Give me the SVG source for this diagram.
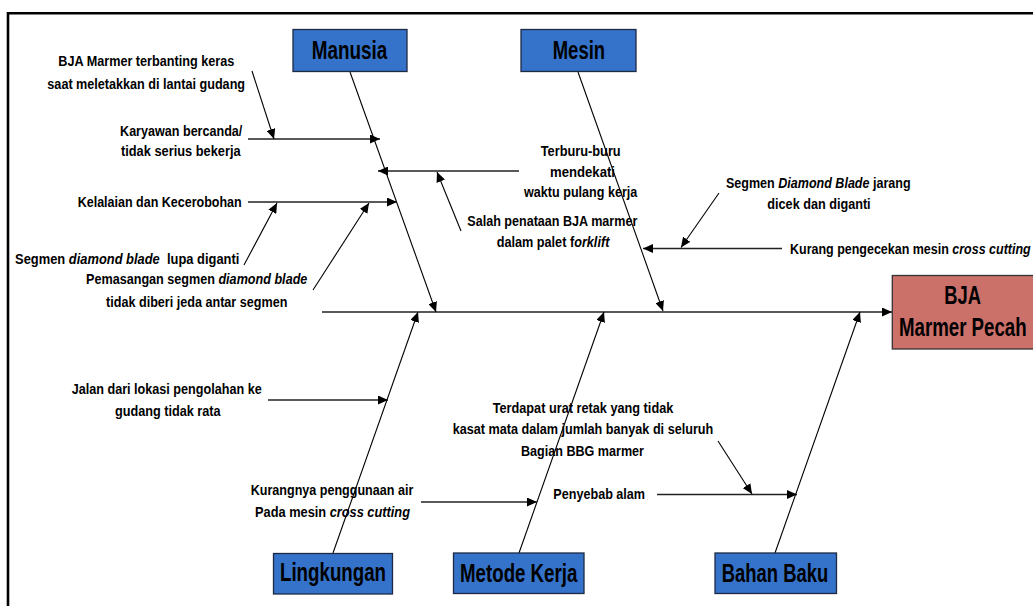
<svg xmlns="http://www.w3.org/2000/svg" width="1033" height="606" viewBox="0 0 1033 606">
<style>
.t{font-family:"Liberation Sans",Arial,sans-serif;font-weight:bold;font-size:14px;fill:#000;text-anchor:middle}
.s{text-anchor:start}
.b{font-family:"Liberation Sans",Arial,sans-serif;font-weight:bold;font-size:26px;fill:#000;text-anchor:middle}
.i{font-style:italic}
.cat{fill:#3473C9;stroke:#1E2A44;stroke-width:1.3}
.eff{fill:#CC706A;stroke:#333;stroke-width:1.3}
.ln{stroke:#000;stroke-width:1.1;fill:none}
.hl{stroke:#222;stroke-width:1.5;fill:none}
</style>
<defs>
<marker id="ah" markerUnits="userSpaceOnUse" markerWidth="11" markerHeight="9" refX="10" refY="4.5" orient="auto">
<path d="M0,0 L10,4.5 L0,9 z" fill="#000"/>
</marker>
</defs>
<rect width="1033" height="606" fill="#fff"/>
<path d="M8,606 V13.3 H1033" fill="none" stroke="#000" stroke-width="2.6"/>

<g id="connectors">
<line class="hl" x1="322" y1="312" x2="892" y2="312" marker-end="url(#ah)"/>
<line class="ln" x1="350" y1="72" x2="436" y2="312" marker-end="url(#ah)"/>
<line class="ln" x1="578" y1="72" x2="663" y2="311" marker-end="url(#ah)"/>
<line class="ln" x1="333" y1="553" x2="418" y2="312" marker-end="url(#ah)"/>
<line class="ln" x1="519" y1="553" x2="604" y2="312" marker-end="url(#ah)"/>
<line class="ln" x1="775" y1="553" x2="860" y2="312" marker-end="url(#ah)"/>
<line class="hl" x1="248" y1="139" x2="380" y2="139" marker-end="url(#ah)"/>
<line class="hl" x1="519" y1="171" x2="378" y2="171" marker-end="url(#ah)"/>
<line class="hl" x1="248" y1="202" x2="397" y2="202" marker-end="url(#ah)"/>
<line class="hl" x1="782" y1="248.5" x2="643" y2="248.5" marker-end="url(#ah)"/>
<line class="hl" x1="268" y1="400" x2="388" y2="400" marker-end="url(#ah)"/>
<line class="hl" x1="421" y1="502" x2="537" y2="502" marker-end="url(#ah)"/>
<line class="hl" x1="657" y1="494.5" x2="797" y2="494.5" marker-end="url(#ah)"/>
<line class="ln" x1="252" y1="71" x2="274" y2="139" marker-end="url(#ah)"/>
<line class="ln" x1="461" y1="231" x2="437" y2="172" marker-end="url(#ah)"/>
<line class="ln" x1="244" y1="265" x2="277" y2="203" marker-end="url(#ah)"/>
<line class="ln" x1="313" y1="290" x2="369" y2="203" marker-end="url(#ah)"/>
<line class="ln" x1="719" y1="193" x2="681" y2="247.5" marker-end="url(#ah)"/>
<line class="ln" x1="718" y1="441" x2="752" y2="494" marker-end="url(#ah)"/>
</g>

<g id="manusia">
<rect class="cat" x="293" y="29.5" width="114" height="42"/>
<text class="b" x="349.5" y="59.3" textLength="75.6" lengthAdjust="spacingAndGlyphs">Manusia</text>
</g>
<g id="mesin">
<rect class="cat" x="521" y="29.5" width="115" height="42"/>
<text class="b" x="578.9" y="58.5" textLength="52.3" lengthAdjust="spacingAndGlyphs">Mesin</text>
</g>
<g id="lingkungan">
<rect class="cat" x="273.5" y="553.5" width="119" height="40.5"/>
<text class="b" x="333" y="580.5" textLength="106" lengthAdjust="spacingAndGlyphs">Lingkungan</text>
</g>
<g id="metode-kerja">
<rect class="cat" x="453.5" y="553" width="130.5" height="40.5"/>
<text class="b" x="518.7" y="581.5" textLength="117.3" lengthAdjust="spacingAndGlyphs">Metode Kerja</text>
</g>
<g id="bahan-baku">
<rect class="cat" x="715" y="553" width="121.5" height="40.5"/>
<text class="b" x="775" y="581.5" textLength="106.6" lengthAdjust="spacingAndGlyphs">Bahan Baku</text>
</g>
<g id="effect">
<rect class="eff" x="892.3" y="275.5" width="143" height="73.5"/>
<text class="b" x="962.7" y="304" textLength="36.7" lengthAdjust="spacingAndGlyphs">BJA</text>
<text class="b" x="962.8" y="336" textLength="127.7" lengthAdjust="spacingAndGlyphs">Marmer Pecah</text>
</g>

<g id="cause-terbanting">
<text class="t" x="146.3" y="66.3" textLength="176" lengthAdjust="spacingAndGlyphs">BJA Marmer terbanting keras</text>
<text class="t" x="146.2" y="89.3" textLength="197.7" lengthAdjust="spacingAndGlyphs">saat meletakkan di lantai gudang</text>
</g>
<g id="cause-bercanda">
<text class="t" x="181.2" y="136.3" textLength="122.3" lengthAdjust="spacingAndGlyphs">Karyawan bercanda/</text>
<text class="t" x="180.8" y="155.5" textLength="119.7" lengthAdjust="spacingAndGlyphs">tidak serius bekerja</text>
</g>
<g id="cause-kelalaian">
<text class="t" x="159.7" y="206.5" textLength="164" lengthAdjust="spacingAndGlyphs">Kelalaian dan Kecerobohan</text>
</g>
<g id="cause-lupa">
<text class="t" x="127.2" y="264" textLength="224.3" lengthAdjust="spacingAndGlyphs">Segmen <tspan class="i">diamond blade</tspan>&#160; lupa diganti</text>
</g>
<g id="cause-pemasangan">
<text class="t" x="196.7" y="284" textLength="221.3" lengthAdjust="spacingAndGlyphs">Pemasangan segmen <tspan class="i">diamond blade</tspan></text>
<text class="t" x="196.7" y="307" textLength="181.3" lengthAdjust="spacingAndGlyphs">tidak diberi jeda antar segmen</text>
</g>
<g id="cause-terburu">
<text class="t" x="580.7" y="155.5" textLength="80" lengthAdjust="spacingAndGlyphs">Terburu-buru</text>
<text class="t" x="582.5" y="176.5" textLength="65" lengthAdjust="spacingAndGlyphs">mendekati</text>
<text class="t" x="580.7" y="197" textLength="113.3" lengthAdjust="spacingAndGlyphs">waktu pulang kerja</text>
</g>
<g id="cause-penataan">
<text class="t" x="552.3" y="226" textLength="170" lengthAdjust="spacingAndGlyphs">Salah penataan BJA marmer</text>
<text class="t" x="553" y="246.5" textLength="112.7" lengthAdjust="spacingAndGlyphs">dalam palet f<tspan class="i">orklift</tspan></text>
</g>
<g id="cause-jarang">
<text class="t" x="818.3" y="188.3" textLength="184.7" lengthAdjust="spacingAndGlyphs">Segmen <tspan class="i">Diamond Blade</tspan> jarang</text>
<text class="t" x="819" y="209.3" textLength="103.3" lengthAdjust="spacingAndGlyphs">dicek dan diganti</text>
</g>
<g id="cause-pengecekan">
<text class="t s" x="790" y="254" textLength="240.7" lengthAdjust="spacingAndGlyphs">Kurang pengecekan mesin <tspan class="i">cross cutting</tspan></text>
</g>
<g id="cause-jalan">
<text class="t" x="166.7" y="394" textLength="190" lengthAdjust="spacingAndGlyphs">Jalan dari lokasi pengolahan ke</text>
<text class="t" x="167.8" y="415.5" textLength="105.7" lengthAdjust="spacingAndGlyphs">gudang tidak rata</text>
</g>
<g id="cause-air">
<text class="t" x="332" y="495" textLength="162.6" lengthAdjust="spacingAndGlyphs">Kurangnya penggunaan air</text>
<text class="t" x="332.5" y="516.5" textLength="155" lengthAdjust="spacingAndGlyphs">Pada mesin <tspan class="i">cross cutting</tspan></text>
</g>
<g id="cause-urat">
<text class="t" x="583" y="413" textLength="180.6" lengthAdjust="spacingAndGlyphs">Terdapat urat retak yang tidak</text>
<text class="t" x="583" y="434" textLength="260.6" lengthAdjust="spacingAndGlyphs">kasat mata dalam jumlah banyak di seluruh</text>
<text class="t" x="582.5" y="455.5" textLength="123" lengthAdjust="spacingAndGlyphs">Bagian BBG marmer</text>
</g>
<g id="cause-alam">
<text class="t" x="599.2" y="499" textLength="91.7" lengthAdjust="spacingAndGlyphs">Penyebab alam</text>
</g>
</svg>
